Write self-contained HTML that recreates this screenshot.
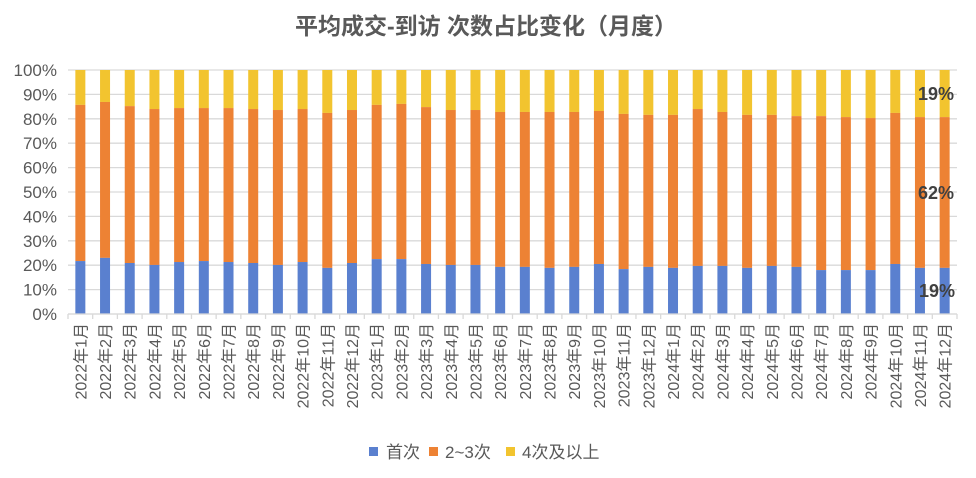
<!DOCTYPE html>
<html><head><meta charset="utf-8"><style>
html,body{margin:0;padding:0;background:#fff;}
svg{display:block;font-family:"Liberation Sans","Noto Sans CJK SC",sans-serif;}
</style></head><body>
<svg id="c" width="976" height="478" xmlns="http://www.w3.org/2000/svg"></svg>
<script>
(function(){
var sv=document.getElementById('c');
var h='';
h+='<text x="486" y="34" text-anchor="middle" font-size="23" font-weight="bold" fill="#595959">平均成交-到访 次数占比变化（月度）</text>';
var pT=70,pB=314,pL=68,pR=957;
for(var i=0;i<=10;i++){var y=pB-(pB-pT)*i/10;
h+='<line x1="'+pL+'" x2="'+pR+'" y1="'+y+'" y2="'+y+'" stroke="#d9d9d9" stroke-width="1.3"/>';
h+='<text x="57" y="'+(y+6)+'" text-anchor="end" font-size="17" fill="#595959">'+(i*10)+'%</text>';}
var b=[21.7,23,20.9,20.1,21.3,21.7,21.3,20.9,20.1,21.3,18.9,20.9,22.5,22.5,20.5,20.1,20.1,19.3,19.3,18.9,19.3,20.5,18.4,19.3,18.9,19.7,19.7,18.9,19.7,19.3,18,18,18,20.5,18.9,18.9];
var o=[85.7,86.9,85.2,84,84.4,84.4,84.4,84,83.6,84,82.4,83.6,85.7,86.1,84.8,83.6,83.6,82.8,82.8,82.8,82.8,83.2,82,81.6,81.6,84,82.8,81.6,81.6,81.1,81.1,80.7,80.3,82.4,80.7,80.7];
var st=(pR-pL)/36,H=pB-pT;
for(var i=0;i<36;i++){var cx=pL+st*(i+0.5),x=cx-5;
var yb=pB-H*b[i]/100,yo=pB-H*o[i]/100;
h+='<rect x="'+x+'" y="'+pT+'" width="10" height="'+(yo-pT)+'" fill="#f2c42f"/>';
h+='<rect x="'+x+'" y="'+yo+'" width="10" height="'+(yb-yo)+'" fill="#ed8234"/>';
h+='<rect x="'+x+'" y="'+yb+'" width="10" height="'+(pB-yb)+'" fill="#5a80cf"/>';
var yr=2022+Math.floor(i/12),m=i%12+1;
h+='<text transform="translate('+(cx+6)+',323) rotate(-90)" text-anchor="end" font-size="16" fill="#595959">'+yr+'年'+m+'月</text>';}
for(var i=0;i<=36;i++){var x=pL+st*i;h+='<line x1="'+x+'" x2="'+x+'" y1="'+pB+'" y2="'+(pB+5)+'" stroke="#d9d9d9" stroke-width="1.3"/>';}
h+='<line x1="'+pL+'" x2="'+pR+'" y1="'+pB+'" y2="'+pB+'" stroke="#d9d9d9" stroke-width="1.3"/>';
h+='<text x="936" y="100" text-anchor="middle" font-size="18" font-weight="bold" fill="#404040">19%</text>';
h+='<text x="936" y="199" text-anchor="middle" font-size="18" font-weight="bold" fill="#404040">62%</text>';
h+='<text x="937" y="297" text-anchor="middle" font-size="18" font-weight="bold" fill="#404040">19%</text>';
h+='<rect x="369" y="447" width="9" height="9" fill="#5a80cf"/><text x="386" y="458" font-size="17" fill="#595959">首次</text>';
h+='<rect x="429" y="447" width="9" height="9" fill="#ed8234"/><text x="445" y="458" font-size="17" fill="#595959">2~3次</text>';
h+='<rect x="506" y="447" width="9" height="9" fill="#f2c42f"/><text x="522" y="458" font-size="17" fill="#595959">4次及以上</text>';
sv.innerHTML=h;
})();
</script>
</body></html>
